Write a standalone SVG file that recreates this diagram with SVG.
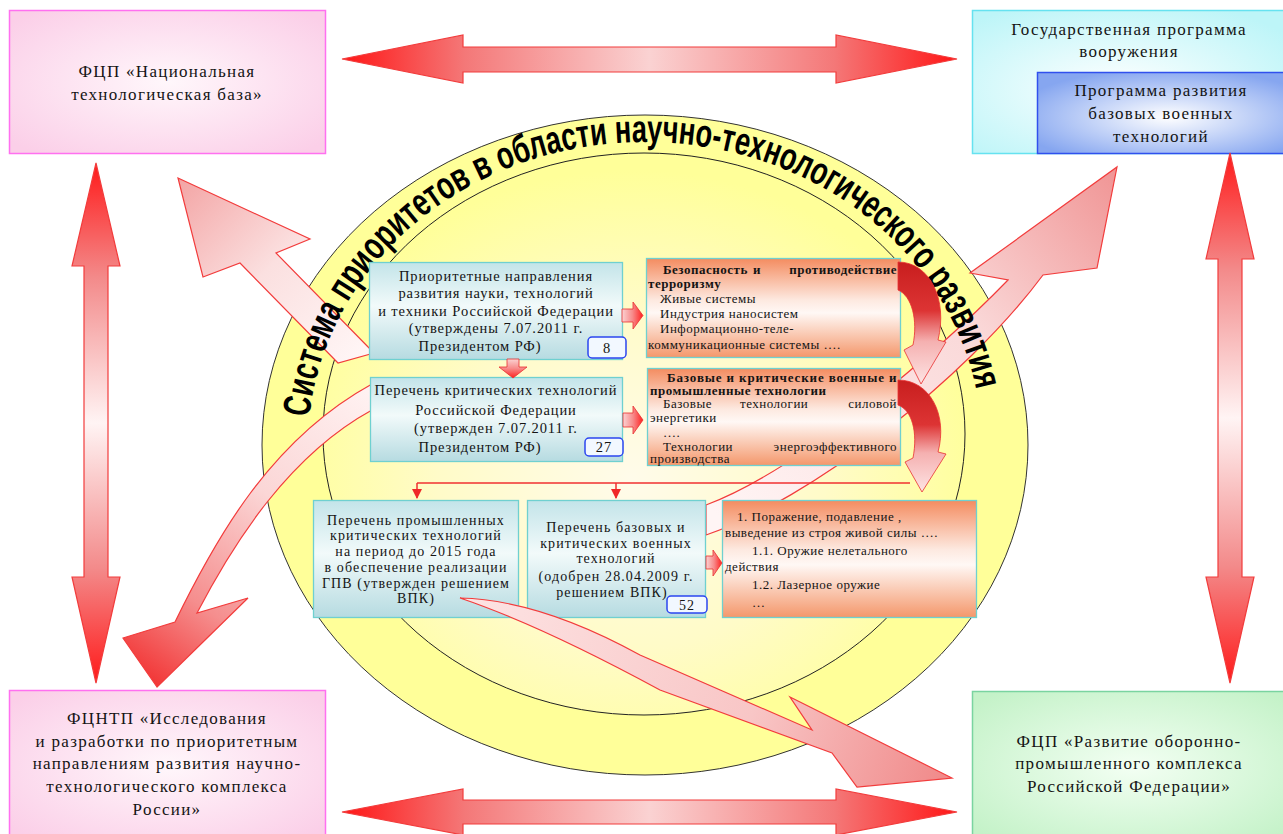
<svg xmlns="http://www.w3.org/2000/svg" width="1283" height="834" viewBox="0 0 1283 834">
<defs>
<style>
.t{font-family:"Liberation Serif","Times New Roman",serif;fill:#141414}
.cc{font-size:17px;letter-spacing:1.3px;text-anchor:middle}
.cm{font-size:14.5px;letter-spacing:0.9px;text-anchor:middle}
.cn{font-size:14px;letter-spacing:1.1px;text-anchor:middle}
.sm{font-size:13px;letter-spacing:0.5px}
.end{text-anchor:end}
.b{font-weight:bold}
.teal{fill:url(#gTeal);stroke:#6fd0d0;stroke-width:1.3}
.orng{fill:url(#gOrange);stroke:#6fd0d0;stroke-width:1.3}
.badge{fill:#f2f8ff;stroke:#2b45f0;stroke-width:1.5}
.big{stroke:#f23c3c;stroke-width:1.2}
.blk{stroke:#e83030;stroke-width:0.8}
.title{font-family:"Liberation Sans",Arial,sans-serif;font-weight:bold;font-size:39px;fill:#000}
</style>
<radialGradient id="gPink" cx="50%" cy="50%" r="65%"><stop offset="0" stop-color="#fff7fb"/><stop offset="1" stop-color="#fbcfe8"/></radialGradient>
<radialGradient id="gCyan" cx="45%" cy="55%" r="65%"><stop offset="0" stop-color="#ffffff"/><stop offset="1" stop-color="#bdf5f8"/></radialGradient>
<radialGradient id="gBlue" cx="50%" cy="55%" r="60%"><stop offset="0" stop-color="#ffffff"/><stop offset="1" stop-color="#86a6f0"/></radialGradient>
<radialGradient id="gGreen" cx="50%" cy="50%" r="65%"><stop offset="0" stop-color="#f3fff3"/><stop offset="1" stop-color="#c4f2c8"/></radialGradient>
<radialGradient id="gCore" cx="48%" cy="58%" r="55%"><stop offset="0" stop-color="#fffbea"/><stop offset="0.55" stop-color="#fffbc8"/><stop offset="1" stop-color="#ffff99"/></radialGradient>
<linearGradient id="gTeal" x1="0" y1="0" x2="0" y2="1"><stop offset="0" stop-color="#c3e4e9"/><stop offset="0.45" stop-color="#f2fafa"/><stop offset="1" stop-color="#b6dbe1"/></linearGradient>
<linearGradient id="gOrange" x1="0" y1="0" x2="0" y2="1"><stop offset="0" stop-color="#f48c60"/><stop offset="0.42" stop-color="#fde9e0"/><stop offset="0.55" stop-color="#fff8f5"/><stop offset="1" stop-color="#f4976b"/></linearGradient>
<linearGradient id="gH" x1="0" y1="0" x2="1" y2="0"><stop offset="0" stop-color="#ff1616"/><stop offset="0.2" stop-color="#f47878"/><stop offset="0.5" stop-color="#fad2d2"/><stop offset="0.8" stop-color="#f47878"/><stop offset="1" stop-color="#ff1616"/></linearGradient>
<linearGradient id="gV" x1="0" y1="0" x2="0" y2="1"><stop offset="0" stop-color="#ff1a1a"/><stop offset="0.22" stop-color="#f38a8a"/><stop offset="0.5" stop-color="#fff4f4"/><stop offset="0.78" stop-color="#f38a8a"/><stop offset="1" stop-color="#ff1a1a"/></linearGradient>
<linearGradient id="gA1" gradientUnits="userSpaceOnUse" x1="178" y1="178" x2="360" y2="360"><stop offset="0" stop-color="#f3a4a4"/><stop offset="0.5" stop-color="#fbe0e0"/><stop offset="1" stop-color="#fff6f6"/></linearGradient>
<linearGradient id="gA2" gradientUnits="userSpaceOnUse" x1="157" y1="687" x2="372" y2="390"><stop offset="0" stop-color="#f23636"/><stop offset="0.25" stop-color="#f58e8e"/><stop offset="0.6" stop-color="#fbd6d6"/><stop offset="1" stop-color="#fff2f2"/></linearGradient>
<linearGradient id="gA3" gradientUnits="userSpaceOnUse" x1="1117" y1="167" x2="720" y2="520"><stop offset="0" stop-color="#f09494"/><stop offset="0.4" stop-color="#fad8d8"/><stop offset="1" stop-color="#fff5f5"/></linearGradient>
<linearGradient id="gA4" gradientUnits="userSpaceOnUse" x1="460" y1="598" x2="952" y2="778"><stop offset="0" stop-color="#fde4e4"/><stop offset="0.6" stop-color="#f8c6c6"/><stop offset="1" stop-color="#f08888"/></linearGradient>
<linearGradient id="gCurl" x1="0" y1="0" x2="0" y2="1"><stop offset="0" stop-color="#c81e1e"/><stop offset="0.4" stop-color="#dd3434"/><stop offset="0.65" stop-color="#f5b0b0"/><stop offset="1" stop-color="#fde4e4"/></linearGradient>
<linearGradient id="gBlkR" x1="0" y1="0" x2="1" y2="0"><stop offset="0" stop-color="#fbd2d2"/><stop offset="0.5" stop-color="#f78a8a"/><stop offset="1" stop-color="#ff2020"/></linearGradient>
<linearGradient id="gBlkD" x1="0" y1="0" x2="0" y2="1"><stop offset="0" stop-color="#fbd2d2"/><stop offset="0.5" stop-color="#f78a8a"/><stop offset="1" stop-color="#ff2020"/></linearGradient>
<marker id="ah" viewBox="0 0 10 10" refX="9" refY="5" markerWidth="7" markerHeight="7" orient="auto"><path d="M0,0 L10,5 L0,10 Z" fill="#f02828"/></marker>
<path id="arc" d="M308,445 A337,303 0 0 1 982,445"/>
</defs>

<rect width="1283" height="834" fill="#ffffff"/>

<!-- outer framework boxes -->
<g id="box-fcp-ntb">
<rect x="9.5" y="10.5" width="316" height="143" fill="url(#gPink)" stroke="#ff70f0" stroke-width="1.5"/>
<text class="t cc" x="167" y="77">ФЦП «Национальная</text>
<text class="t cc" x="167" y="100">технологическая база»</text>
</g>
<g id="box-gpv">
<rect x="972.5" y="10.5" width="322" height="143" fill="url(#gCyan)" stroke="#66e2f0" stroke-width="1.5"/>
<text class="t cc" x="1129" y="35">Государственная программа</text>
<text class="t cc" x="1129" y="57">вооружения</text>
</g>
<g id="box-pbvt">
<rect x="1037.5" y="72.5" width="262" height="81" fill="url(#gBlue)" stroke="#3050ee" stroke-width="1.5"/>
<text class="t cc" x="1161" y="96">Программа развития</text>
<text class="t cc" x="1161" y="119">базовых военных</text>
<text class="t cc" x="1161" y="142">технологий</text>
</g>
<g id="box-fcntp">
<rect x="9.5" y="690.5" width="316" height="150" fill="url(#gPink)" stroke="#ff70f0" stroke-width="1.5"/>
<text class="t cc" x="167" y="724">ФЦНТП «Исследования</text>
<text class="t cc" x="167" y="747">и разработки по приоритетным</text>
<text class="t cc" x="167" y="769">направлениям развития научно-</text>
<text class="t cc" x="167" y="792">технологического комплекса</text>
<text class="t cc" x="167" y="815">России»</text>
</g>
<g id="box-fcp-opk">
<rect x="972.5" y="691.5" width="322" height="150" fill="url(#gGreen)" stroke="#7ad4a0" stroke-width="1.5"/>
<text class="t cc" x="1129" y="747">ФЦП «Развитие оборонно-</text>
<text class="t cc" x="1129" y="769">промышленного комплекса</text>
<text class="t cc" x="1129" y="792">Российской Федерации»</text>
</g>

<!-- double arrows between the framework boxes -->
<g id="frame-arrows" class="big">
<polygon fill="url(#gH)" points="342,59 463,35 463,47 836,47 836,35 957,59 836,83 836,72 463,72 463,83"/>
<polygon fill="url(#gH)" points="342,812 463,789 463,800 836,800 836,789 957,812 836,835 836,824 463,824 463,835"/>
<polygon fill="url(#gV)" points="96,163 120,266 108,266 108,577 120,577 96,683 72,577 84,577 84,266 72,266"/>
<polygon fill="url(#gV)" points="1230,153 1254,259 1242,259 1242,577 1254,577 1230,683 1206,577 1218,577 1218,259 1206,259"/>
</g>

<!-- system of priorities: rings -->
<g id="system">
<ellipse cx="645" cy="445" rx="383" ry="330" fill="#ffff99" stroke="#333" stroke-width="1"/>
<ellipse cx="644" cy="434" rx="321" ry="281" fill="url(#gCore)" stroke="#222" stroke-width="1"/>
</g>

<!-- links from the lists out to the programmes -->
<g id="connectors">
<polygon class="big" fill="url(#gA1)" points="178,178 310,239 276,253 374,353 338,363 240,263 203,277"/>
<path class="big" fill="url(#gA2)" d="M157,687 L123,638 L175,622 C215,540 270,440 372,384 L372,410 C290,455 235,540 197,613 L248,598 Z"/>
<path class="big" fill="url(#gA3)" d="M1117,167 L1097,268 L1043,275 C965,380 810,500 706,535 L706,505 C800,470 940,350 1008,280 L970,273 Z"/>
</g>

<g id="system-title">
<text class="title"><textPath href="#arc" startOffset="28" textLength="922" lengthAdjust="spacingAndGlyphs">Система приоритетов в области научно-технологического развития</textPath></text>
</g>

<!-- lists inside the system -->
<g id="box-priority">
<rect class="teal" x="369.5" y="262.5" width="253" height="97"/>
<text class="t cm" x="496" y="281">Приоритетные направления</text>
<text class="t cm" x="496" y="298">развития науки, технологий</text>
<text class="t cm" x="496" y="316">и техники Российской Федерации</text>
<text class="t cm" x="496" y="333">(утверждены 7.07.2011 г.</text>
<text class="t cm" x="480" y="351">Президентом РФ)</text>
<rect class="badge" x="588" y="337" width="38" height="21" rx="4"/>
<text class="t cm" x="607" y="353">8</text>
</g>

<g id="box-critical">
<rect class="teal" x="370.5" y="377.5" width="252" height="84"/>
<text class="t cm" x="496" y="395">Перечень критических технологий</text>
<text class="t cm" x="496" y="415">Российской Федерации</text>
<text class="t cm" x="496" y="433">(утвержден 7.07.2011 г.</text>
<text class="t cm" x="480" y="452">Президентом РФ)</text>
<rect class="badge" x="585" y="438" width="38" height="18" rx="4"/>
<text class="t cm" x="604" y="452">27</text>
</g>

<g id="box-directions">
<rect class="orng" x="646.5" y="258.5" width="254" height="99"/>
<text class="t sm b" x="663" y="274">Безопасность</text>
<text class="t sm b" x="753" y="274">и</text>
<text class="t sm b end" x="897" y="274">противодействие</text>
<text class="t sm b" x="648" y="288">терроризму</text>
<text class="t sm" x="660" y="303">Живые системы</text>
<text class="t sm" x="660" y="318">Индустрия наносистем</text>
<text class="t sm" x="660" y="333">Информационно-теле-</text>
<text class="t sm" x="648" y="349">коммуникационные системы ….</text>
</g>

<g id="box-basic">
<rect class="orng" x="647.5" y="368.5" width="253" height="97"/>
<text class="t sm b" x="667" y="382" textLength="230" lengthAdjust="spacing">Базовые и критические военные и</text>
<text class="t sm b" x="650" y="395">промышленные технологии</text>
<text class="t sm" x="663" y="408">Базовые</text>
<text class="t sm" x="740" y="408">технологии</text>
<text class="t sm end" x="897" y="408">силовой</text>
<text class="t sm" x="650" y="422">энергетики</text>
<text class="t sm" x="663" y="437">….</text>
<text class="t sm" x="663" y="451">Технологии</text>
<text class="t sm end" x="897" y="451">энергоэффективного</text>
<text class="t sm" x="650" y="463">производства</text>
</g>

<g id="box-industrial">
<rect class="teal" x="313.5" y="500.5" width="205" height="117"/>
<text class="t cn" x="416" y="525">Перечень промышленных</text>
<text class="t cn" x="416" y="540">критических технологий</text>
<text class="t cn" x="416" y="556">на период до 2015 года</text>
<text class="t cn" x="416" y="572">в обеспечение реализации</text>
<text class="t cn" x="416" y="588">ГПВ (утвержден решением</text>
<text class="t cn" x="416" y="603">ВПК)</text>
</g>

<g id="box-military">
<rect class="teal" x="527.5" y="500.5" width="178" height="117"/>
<text class="t cn" x="616" y="532">Перечень базовых и</text>
<text class="t cn" x="616" y="548">критических военных</text>
<text class="t cn" x="616" y="563">технологий</text>
<text class="t cn" x="616" y="581">(одобрен 28.04.2009 г.</text>
<text class="t cn" x="612" y="597">решением ВПК)</text>
<rect class="badge" x="667" y="596" width="40" height="17" rx="4"/>
<text class="t cn" x="687" y="610">52</text>
</g>

<g id="box-weapons">
<rect class="orng" x="722.5" y="500.5" width="254" height="117"/>
<text class="t sm" x="737" y="521">1. Поражение, подавление ,</text>
<text class="t sm" x="725" y="537">выведение из строя живой силы ….</text>
<text class="t sm" x="752" y="555">1.1. Оружие нелетального</text>
<text class="t sm" x="725" y="571">действия</text>
<text class="t sm" x="752" y="589">1.2.  Лазерное оружие</text>
<text class="t sm" x="752" y="607">…</text>
</g>

<!-- arrow to the defence-industry programme (lies over the list) -->
<g id="link-opk">
<path class="big" fill="url(#gA4)" d="M460,598 Q540,600 640,655 L812,730 L790,697 L952,778 L857,787 L832,753 L660,690 Q540,625 460,598 Z"/>
</g>

<!-- small links between lists -->
<g id="inner-links">
<polygon class="blk" fill="url(#gBlkR)" points="622,309 633,309 633,302 643,315.5 633,329 633,322 622,322"/>
<polygon class="blk" fill="url(#gBlkR)" points="623,413 633,413 633,406 643,420 633,434 633,427 623,427"/>
<polygon class="blk" fill="url(#gBlkD)" points="507,359 519,359 519,367 527,367 513,378 499,367 507,367"/>
<polygon class="blk" fill="url(#gBlkR)" points="706,556 713,556 713,550 722,563 713,576 713,569 706,569"/>
<path d="M417,483 H910" fill="none" stroke="#f03030" stroke-width="1.5"/>
<path d="M417,483 V498" fill="none" stroke="#f03030" stroke-width="1.5" marker-end="url(#ah)"/>
<path d="M616,483 V498" fill="none" stroke="#f03030" stroke-width="1.5" marker-end="url(#ah)"/>
<path class="blk" fill="url(#gCurl)" d="M898,262 C930,262 948,300 938,340 L946,342 L921,384 L904,350 L913,345 C918,320 912,296 898,290 Z"/>
<path class="blk" fill="url(#gCurl)" d="M898,380 C930,380 948,415 938,452 L946,454 L922,492 L905,462 L913,458 C918,432 912,410 898,405 Z"/>
</g>
</svg>
